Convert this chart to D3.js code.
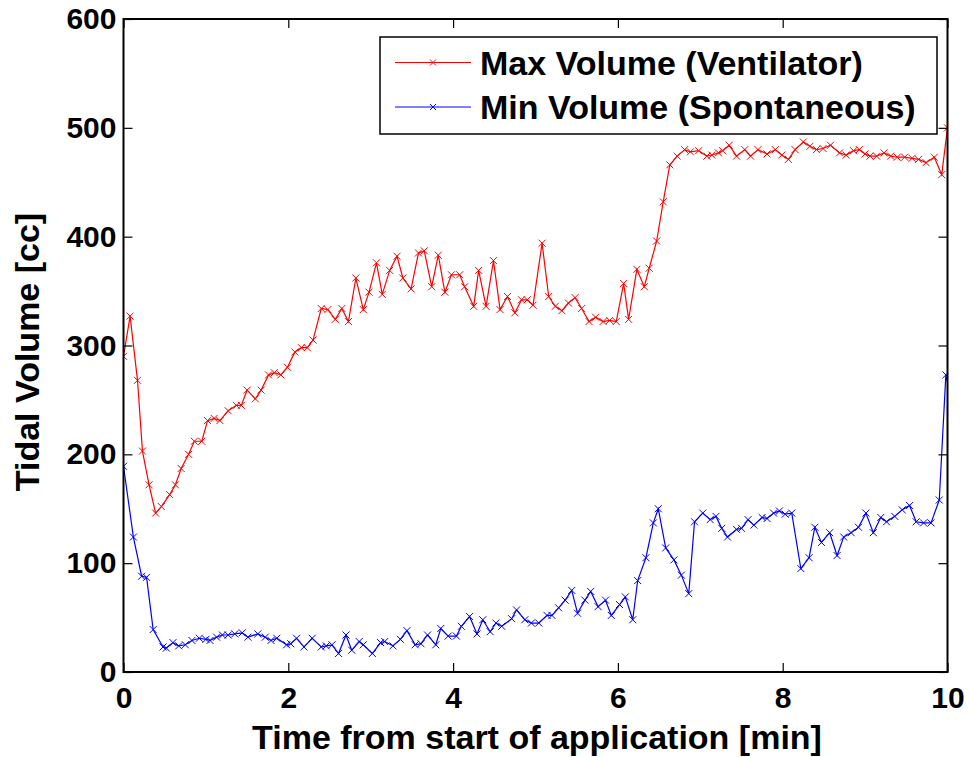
<!DOCTYPE html>
<meta charset="utf-8">
<style>
	body { margin: 0; background: #fff; font-family: "Liberation Sans", Arial, sans-serif; }
	.tick text { font-weight: bold; font-size: 30px; fill: #000; }
	.axis path, .axis line { stroke: #000; }
</style>
<body>
<svg id="chart" width="969" height="757"></svg>

<script src="https://d3js.org/d3.v7.min.js"></script>
<script>
	// time in minutes, volume in cc
	var maxTime = [0.00,0.08,0.17,0.23,0.31,0.39,0.46,0.56,0.63,0.70,0.79,0.86,0.95,1.02,1.10,1.17,1.27,1.37,1.43,1.50,
		1.60,1.67,1.76,1.83,1.91,1.99,2.08,2.16,2.23,2.30,2.40,2.48,2.57,2.65,2.73,2.82,2.91,2.98,3.07,3.14,
		3.23,3.32,3.39,3.49,3.58,3.65,3.74,3.82,3.90,3.98,4.08,4.14,4.25,4.31,4.40,4.49,4.57,4.66,4.75,4.83,
		4.90,4.97,5.08,5.16,5.24,5.32,5.40,5.48,5.56,5.65,5.73,5.82,5.90,5.98,6.07,6.13,6.23,6.32,6.38,6.47,
		6.55,6.63,6.72,6.81,6.88,6.98,7.08,7.14,7.22,7.27,7.35,7.44,7.54,7.61,7.70,7.81,7.91,7.99,8.07,8.15,
		8.25,8.33,8.41,8.49,8.58,8.69,8.77,8.86,8.93,9.00,9.06,9.14,9.23,9.31,9.39,9.48,9.57,9.65,9.74,9.84,
		9.93,10.00];
	var maxVolume = [290,327,268,203,172,146,152,163,172,187,200,212,212,231,233,231,240,245,245,259,
		251,259,273,275,273,280,294,298,298,305,334,333,324,334,322,362,333,349,376,347,
		369,382,362,352,385,387,354,383,349,365,365,354,336,369,336,378,333,345,330,342,
		342,337,394,345,336,332,339,344,334,322,326,322,323,322,357,324,370,354,371,396,
		432,466,474,480,478,479,474,475,477,479,484,474,480,474,480,476,480,475,471,480,
		487,483,480,481,484,477,475,479,480,476,474,474,477,474,473,473,472,471,468,473,
		457,500];

	var minTime = [0.00,0.12,0.22,0.28,0.36,0.48,0.52,0.60,0.67,0.75,0.83,0.92,1.00,1.05,1.13,1.20,1.27,1.35,1.44,1.51,
		1.63,1.72,1.79,1.86,1.98,2.03,2.10,2.19,2.29,2.40,2.46,2.53,2.61,2.70,2.77,2.86,2.91,3.02,3.12,3.17,
		3.27,3.36,3.44,3.54,3.61,3.69,3.79,3.85,3.94,4.04,4.10,4.20,4.29,4.36,4.45,4.52,4.59,4.71,4.77,4.87,
		4.95,5.04,5.14,5.20,5.28,5.36,5.44,5.51,5.60,5.67,5.76,5.85,5.92,6.02,6.09,6.18,6.24,6.34,6.43,6.49,
		6.58,6.68,6.77,6.86,6.93,7.03,7.12,7.19,7.26,7.33,7.44,7.50,7.58,7.65,7.75,7.81,7.89,7.96,8.03,8.11,
		8.22,8.32,8.39,8.47,8.57,8.66,8.74,8.83,8.92,9.01,9.10,9.19,9.26,9.36,9.45,9.54,9.62,9.71,9.80,9.90,
		9.98,10.06];
	var minVolume = [189,124,88,87,39,23,22,27,24,25,29,31,30,29,32,34,34,35,36,32,
		35,32,29,31,25,26,31,23,31,23,24,25,17,34,20,28,25,17,27,28,
		24,30,38,25,26,34,25,40,33,33,42,51,35,48,37,45,42,49,57,48,
		45,45,52,52,59,66,75,54,66,74,60,66,52,62,69,48,84,105,137,150,
		114,103,89,72,138,146,140,143,132,124,131,132,140,135,142,141,146,148,145,146,
		95,105,133,119,128,107,124,128,133,146,128,142,138,143,149,153,138,137,137,158,
		273,245];

	var xTicks = [0, 2, 4, 6, 8, 10];
	var yTicks = [0, 100, 200, 300, 400, 500, 600];
	var seriesNames = ["Max Volume (Ventilator)", "Min Volume (Spontaneous)"];
	var seriesColors = ["#ff0000", "#0000ff"];

	var svg = d3.select("#chart"),
	margin = {top: 19, right: 21.5, bottom: 85, left: 123.5},
	width = +svg.attr("width"),
	height = +svg.attr("height"),
	domainwidth = width - margin.left - margin.right,
	domainheight = height - margin.top - margin.bottom;

	var x = d3.scaleLinear()
	.domain([0, 10])
	.range([0, domainwidth]);
	var y = d3.scaleLinear()
	.domain([0, 600])
	.range([domainheight, 0]);

	svg.append("defs").append("clipPath")
	.attr("id", "clip")
	.append("rect")
	.attr("width", domainwidth)
	.attr("height", domainheight);

	var g = svg.append("g")
	.attr("transform", "translate(" + margin.left + "," + margin.top + ")");

	var series = [
		{name: seriesNames[0], color: seriesColors[0], pts: maxTime.map(function(t, i) { return [t, maxVolume[i]]; })},
		{name: seriesNames[1], color: seriesColors[1], pts: minTime.map(function(t, i) { return [t, minVolume[i]]; })}
	];

	var line = d3.line()
	.x(function(d) { return x(d[0]); })
	.y(function(d) { return y(d[1]); });

	function cross(sel, s, r) {
		r = r || 3.5;
		sel.attr("d", "M" + -r + "," + -r + "L" + r + "," + r + "M" + -r + "," + r + "L" + r + "," + -r)
		.attr("stroke", s)
		.attr("stroke-width", 1)
		.attr("fill", "none");
	}

	var plot = g.append("g").attr("clip-path", "url(#clip)");

	series.forEach(function(s) {
		plot.append("path")
		.datum(s.pts)
		.attr("d", line)
		.attr("fill", "none")
		.attr("stroke", s.color)
		.attr("stroke-width", 1.2);

		plot.selectAll(null)
		.data(s.pts)
		.enter().append("path")
		.attr("transform", function(d) { return "translate(" + x(d[0]) + "," + y(d[1]) + ")"; })
		.call(cross, s.color);
	});

	// axes, ticks inside like matlab
	g.append("g")
	.attr("class", "axis")
	.attr("transform", "translate(0," + domainheight + ")")
	.call(d3.axisBottom(x).tickValues(xTicks).tickSizeInner(-9).tickSizeOuter(0).tickPadding(15).tickFormat(d3.format("d")));
	g.append("g")
	.attr("class", "axis")
	.call(d3.axisTop(x).tickValues(xTicks).tickSizeInner(-9).tickSizeOuter(0).tickFormat(""));
	g.append("g")
	.attr("class", "axis")
	.call(d3.axisLeft(y).tickValues(yTicks).tickSizeInner(-9).tickSizeOuter(0).tickPadding(7).tickFormat(d3.format("d")));
	g.append("g")
	.attr("class", "axis")
	.attr("transform", "translate(" + domainwidth + ",0)")
	.call(d3.axisRight(y).tickValues(yTicks).tickSizeInner(-9).tickSizeOuter(0).tickFormat(""));

	g.selectAll(".axis line").attr("stroke-width", 1.2);
	g.selectAll(".axis .domain").remove();

	g.append("rect")
	.attr("width", domainwidth)
	.attr("height", domainheight)
	.attr("fill", "none")
	.attr("stroke", "#000")
	.attr("stroke-width", 2);

	// axis titles
	svg.append("text")
	.attr("x", margin.left + domainwidth / 2 + 1.5)
	.attr("y", 749)
	.attr("text-anchor", "middle")
	.style("font-weight", "bold")
	.style("font-size", "34px")
	.text("Time from start of application [min]");

	svg.append("text")
	.attr("transform", "translate(39,352) rotate(-90)")
	.attr("text-anchor", "middle")
	.style("font-weight", "bold")
	.style("font-size", "34px")
	.text("Tidal Volume [cc]");

	// legend
	var leg = svg.append("g").attr("transform", "translate(380,37)");
	leg.append("rect")
	.attr("width", 557)
	.attr("height", 97)
	.attr("fill", "#fff")
	.attr("stroke", "#000")
	.attr("stroke-width", 1.5);

	series.forEach(function(s, i) {
		var row = leg.append("g").attr("transform", "translate(0," + (25.5 + i * 44.5) + ")");
		row.append("line")
		.attr("x1", 15).attr("x2", 91)
		.attr("stroke", s.color)
		.attr("stroke-width", 1.2);
		row.append("path")
		.attr("transform", "translate(53,0)")
		.call(cross, s.color, 3);
		row.append("text")
		.attr("x", 100)
		.attr("dy", "0.36em")
		.style("font-weight", "bold")
		.style("font-size", "34px")
		.text(s.name);
	});
</script>
</body>
